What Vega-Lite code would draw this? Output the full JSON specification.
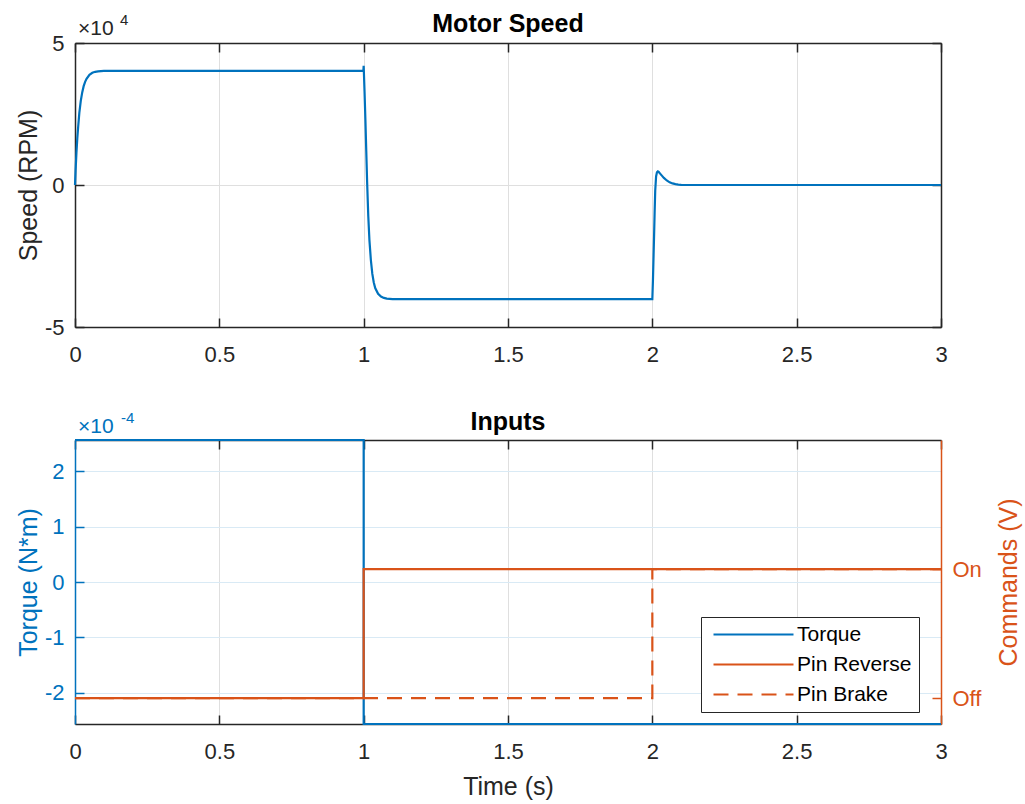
{
  "$schema": "https://vega.github.io/schema/vega-lite/v6.json",
  "background": "white",
  "padding": {"left": 16, "top": 12, "right": 4, "bottom": 4},
  "spacing": 45,
  "config": {
    "font": "Liberation Sans",
    "view": {"stroke": null},
    "axis": {
      "domainColor": "#262626", "domainWidth": 1.5,
      "tickColor": "#262626", "tickWidth": 1.5, "tickSize": -9,
      "labelColor": "#262626", "labelFontSize": 22, "labelFont": "Liberation Sans",
      "titleFont": "Liberation Sans", "titleFontSize": 25, "titleFontWeight": "normal", "titleColor": "#262626",
      "gridColor": "#dfdfdf", "gridWidth": 1,
      "labelFlush": false, "labelOverlap": false, "labelBound": false
    },
    "axisX": {"labelPadding": 26, "titlePadding": 12},
    "axisY": {"labelPadding": 20, "titlePadding": 3},
    "title": {"fontSize": 25, "fontWeight": "bold", "color": "#000000", "font": "Liberation Sans", "offset": -24},
    "text": {"font": "Liberation Sans"}
  },
  "vconcat": [
    {
      "title": "Motor Speed",
      "width": 866,
      "height": 284,
      "resolve": {"axis": {"x": "independent", "y": "independent"}},
      "layer": [
        {
          "data": {"values": [
            {"t": 0, "rpm": 0}, {"t": 0.002, "rpm": 5000}, {"t": 0.005, "rpm": 11400}, {"t": 0.008, "rpm": 16500},
            {"t": 0.011, "rpm": 20500}, {"t": 0.015, "rpm": 25400}, {"t": 0.02, "rpm": 29600}, {"t": 0.025, "rpm": 32600},
            {"t": 0.03, "rpm": 34800}, {"t": 0.035, "rpm": 36300}, {"t": 0.04, "rpm": 37400}, {"t": 0.05, "rpm": 38800},
            {"t": 0.06, "rpm": 39500}, {"t": 0.07, "rpm": 39850}, {"t": 0.08, "rpm": 40000}, {"t": 0.1, "rpm": 40150},
            {"t": 0.15, "rpm": 40200}, {"t": 0.5, "rpm": 40200}, {"t": 0.999, "rpm": 40200}, {"t": 1.0, "rpm": 42000},
            {"t": 1.003, "rpm": 33000}, {"t": 1.006, "rpm": 23000}, {"t": 1.009, "rpm": 12000}, {"t": 1.012, "rpm": 1000},
            {"t": 1.016, "rpm": -11000}, {"t": 1.02, "rpm": -19500}, {"t": 1.025, "rpm": -26500}, {"t": 1.03, "rpm": -31300},
            {"t": 1.035, "rpm": -34300}, {"t": 1.04, "rpm": -36300}, {"t": 1.05, "rpm": -38300}, {"t": 1.06, "rpm": -39300},
            {"t": 1.07, "rpm": -39750}, {"t": 1.08, "rpm": -40000}, {"t": 1.1, "rpm": -40150}, {"t": 1.15, "rpm": -40200},
            {"t": 1.5, "rpm": -40200}, {"t": 2.0, "rpm": -40200}, {"t": 2.002, "rpm": -34000}, {"t": 2.004, "rpm": -26000},
            {"t": 2.006, "rpm": -18000}, {"t": 2.008, "rpm": -9500}, {"t": 2.01, "rpm": -2000}, {"t": 2.013, "rpm": 3000},
            {"t": 2.016, "rpm": 4500}, {"t": 2.019, "rpm": 4800}, {"t": 2.022, "rpm": 4600}, {"t": 2.027, "rpm": 4000},
            {"t": 2.033, "rpm": 3300}, {"t": 2.04, "rpm": 2500}, {"t": 2.05, "rpm": 1600}, {"t": 2.06, "rpm": 950},
            {"t": 2.07, "rpm": 550}, {"t": 2.08, "rpm": 300}, {"t": 2.09, "rpm": 150}, {"t": 2.1, "rpm": 60},
            {"t": 2.12, "rpm": 0}, {"t": 2.5, "rpm": 0}, {"t": 3.0, "rpm": 0}
          ]},
          "mark": {"type": "line", "color": "#0072BD", "strokeWidth": 2.2},
          "encoding": {
            "x": {"field": "t", "type": "quantitative", "scale": {"domain": [0, 3], "nice": false, "zero": false},
                  "axis": {"orient": "bottom", "values": [0, 0.5, 1, 1.5, 2, 2.5, 3], "labelExpr": "'' + datum.value", "title": null, "grid": true}},
            "y": {"field": "rpm", "type": "quantitative", "scale": {"domain": [-50000, 50000], "nice": false, "zero": false},
                  "axis": {"orient": "left", "values": [-50000, 0, 50000], "labelExpr": "'' + round(datum.value / 10000)", "title": "Speed (RPM)", "grid": true}}
          }
        },
        {
          "data": {"values": [{"s": "×10", "e": "4"}]},
          "mark": {"type": "text", "align": "left", "baseline": "alphabetic", "dx": 3, "dy": -8, "fontSize": 21, "color": "#262626"},
          "encoding": {
            "x": {"datum": 0, "type": "quantitative", "axis": {"orient": "top", "values": [0, 0.5, 1, 1.5, 2, 2.5, 3], "labels": false, "title": null, "grid": false}},
            "y": {"datum": 50000, "type": "quantitative", "axis": {"orient": "right", "values": [-50000, 0, 50000], "labels": false, "title": null, "grid": false}},
            "text": {"field": "s"}
          }
        },
        {
          "data": {"values": [{"s": "×10", "e": "4"}]},
          "mark": {"type": "text", "align": "left", "baseline": "alphabetic", "dx": 45, "dy": -18, "fontSize": 15, "color": "#262626"},
          "encoding": {
            "x": {"datum": 0, "type": "quantitative", "axis": null},
            "y": {"datum": 50000, "type": "quantitative", "axis": null},
            "text": {"field": "e"}
          }
        }
      ]
    },
    {
      "title": "Inputs",
      "width": 866,
      "height": 284,
      "resolve": {"scale": {"y": "independent"}, "axis": {"x": "independent", "y": "independent"}},
      "layer": [
        {
          "data": {"values": [
            {"t": 0, "torque": 0.000257, "series": "Torque"},
            {"t": 1, "torque": -0.000257, "series": "Torque"},
            {"t": 3, "torque": -0.000257, "series": "Torque"}
          ]},
          "mark": {"type": "line", "interpolate": "step-after", "strokeWidth": 2.2},
          "encoding": {
            "x": {"field": "t", "type": "quantitative", "scale": {"domain": [0, 3], "nice": false, "zero": false},
                  "axis": {"orient": "bottom", "values": [0, 0.5, 1, 1.5, 2, 2.5, 3], "labelExpr": "'' + datum.value", "title": "Time (s)", "grid": true}},
            "y": {"field": "torque", "type": "quantitative", "scale": {"domain": [-0.000257, 0.000257], "nice": false, "zero": false},
                  "axis": {"orient": "left", "values": [-0.0002, -0.0001, 0, 0.0001, 0.0002], "labelExpr": "'' + round(datum.value * 10000)",
                           "title": "Torque (N*m)", "grid": true, "gridColor": "#d9eaf5",
                           "domainColor": "#0072BD", "tickColor": "#0072BD", "labelColor": "#0072BD", "titleColor": "#0072BD"}},
            "color": {"field": "series", "type": "nominal",
                      "scale": {"domain": ["Torque", "Pin Reverse", "Pin Brake"], "range": ["#0072BD", "#D95319", "#D95319"]},
                      "legend": {"orient": "none", "legendX": 626, "legendY": 574, "title": null, "direction": "vertical",
                                 "fillColor": "white", "strokeColor": "#262626", "padding": 7, "labelFontSize": 21, "labelColor": "#000000",
                                 "symbolType": "M-8,0H8", "symbolSize": 100, "symbolStrokeWidth": 2.2, "symbolOffset": 35, "labelOffset": 33, "rowPadding": 8}},
            "strokeDash": {"field": "series", "type": "nominal",
                      "scale": {"domain": ["Torque", "Pin Reverse", "Pin Brake"], "range": [[1, 0], [1, 0], [15, 9]]},
                      "legend": {"orient": "none", "legendX": 626, "legendY": 574, "title": null, "direction": "vertical",
                                 "fillColor": "white", "strokeColor": "#262626", "padding": 7, "labelFontSize": 21, "labelColor": "#000000",
                                 "symbolType": "M-8,0H8", "symbolSize": 100, "symbolStrokeWidth": 2.2, "symbolOffset": 35, "labelOffset": 33, "rowPadding": 8}}
          }
        },
        {
          "data": {"values": [
            {"t": 0, "cmd": 0, "series": "Pin Reverse"}, {"t": 1, "cmd": 1, "series": "Pin Reverse"}, {"t": 3, "cmd": 1, "series": "Pin Reverse"},
            {"t": 0, "cmd": 0, "series": "Pin Brake"}, {"t": 2, "cmd": 1, "series": "Pin Brake"}, {"t": 3, "cmd": 1, "series": "Pin Brake"}
          ]},
          "mark": {"type": "line", "interpolate": "step-after", "strokeWidth": 2.2},
          "encoding": {
            "x": {"field": "t", "type": "quantitative",
                  "axis": {"orient": "top", "values": [0, 0.5, 1, 1.5, 2, 2.5, 3], "labels": false, "title": null, "grid": false}},
            "y": {"field": "cmd", "type": "quantitative", "scale": {"domain": [-0.2, 2], "nice": false, "zero": false},
                  "axis": {"orient": "right", "values": [0, 1], "labelExpr": "datum.value == 1 ? 'On' : 'Off'",
                           "title": "Commands (V)", "titleAngle": 270, "titleBaseline": "top", "titlePadding": 15, "grid": false,
                           "domainColor": "#D95319", "tickColor": "#D95319", "labelColor": "#D95319", "titleColor": "#D95319"}},
            "color": {"field": "series", "type": "nominal"},
            "strokeDash": {"field": "series", "type": "nominal"}
          }
        },
        {
          "data": {"values": [{"s": "×10", "e": "-4"}]},
          "mark": {"type": "text", "align": "left", "baseline": "alphabetic", "dx": 3, "dy": -7, "fontSize": 21, "color": "#0072BD"},
          "encoding": {
            "x": {"datum": 0, "type": "quantitative", "axis": null},
            "y": {"datum": 0.000257, "type": "quantitative", "scale": {"domain": [-0.000257, 0.000257], "nice": false, "zero": false}, "axis": null},
            "text": {"field": "s"}
          }
        },
        {
          "data": {"values": [{"s": "×10", "e": "-4"}]},
          "mark": {"type": "text", "align": "left", "baseline": "alphabetic", "dx": 46, "dy": -17, "fontSize": 15, "color": "#0072BD"},
          "encoding": {
            "x": {"datum": 0, "type": "quantitative", "axis": null},
            "y": {"datum": 0.000257, "type": "quantitative", "scale": {"domain": [-0.000257, 0.000257], "nice": false, "zero": false}, "axis": null},
            "text": {"field": "e"}
          }
        }
      ]
    }
  ]
}
